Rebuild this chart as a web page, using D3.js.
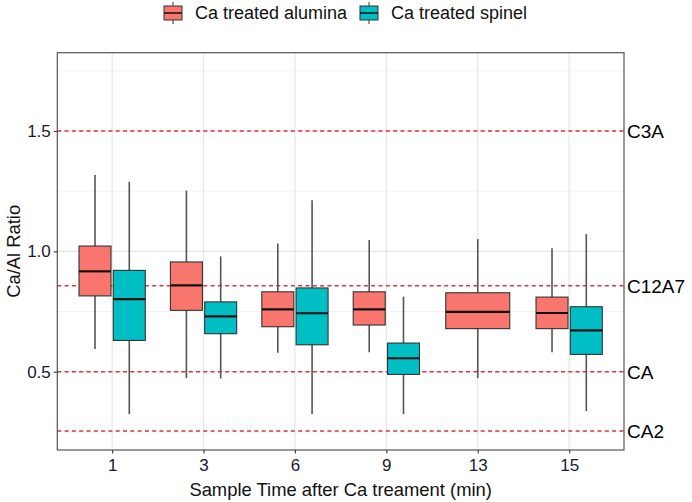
<!DOCTYPE html>
<html>
<head>
<meta charset="utf-8">
<title>Ca/Al Ratio boxplot</title>
<script src="https://d3js.org/d3.v7.min.js"></script>
<style>
  body { margin: 0; padding: 0; background: #fff; }
  svg { display: block; font-family: "Liberation Sans", Arial, sans-serif; }
</style>
</head>
<body>
<svg width="692" height="502"></svg>
<script>
// sample times (x categories)
var times = ["1", "3", "6", "9", "13", "15"];

// Ca treated alumina: box stats per time
var aluminaLow = [0.594, 0.474, 0.579, 0.581, 0.474, 0.581];
var aluminaQ1  = [0.815, 0.755, 0.687, 0.694, 0.679, 0.679];
var aluminaMed = [0.917, 0.859, 0.759, 0.759, 0.749, 0.744];
var aluminaQ3  = [1.022, 0.956, 0.832, 0.832, 0.828, 0.810];
var aluminaHigh= [1.317, 1.252, 1.033, 1.047, 1.051, 1.013];

// Ca treated spinel (no sample at 13 min)
var spinelLow = [0.324, 0.472, 0.324, 0.324, null, 0.337];
var spinelQ1  = [0.630, 0.658, 0.612, 0.489, null, 0.572];
var spinelMed = [0.802, 0.730, 0.743, 0.556, null, 0.672];
var spinelQ3  = [0.921, 0.790, 0.848, 0.619, null, 0.770];
var spinelHigh= [1.289, 0.979, 1.212, 0.812, null, 1.072];

// reference phases
var phaseNames = ["C3A", "C12A7", "CA", "CA2"];
var phaseValues = [1.5, 0.857, 0.5, 0.254];

var yTicks = [0.5, 1.0, 1.5];
var yMinor = [0.25, 0.75, 1.25, 1.75];

var seriesNames = ["Ca treated alumina", "Ca treated spinel"];
var seriesColors = ["#F8766D", "#00BFC4"];

var svg = d3.select("svg");
var pLeft = 57.3, pRight = 624, pTop = 52.7, pBottom = 450;

var x = d3.scalePoint().domain(times).range([pLeft, pRight]).padding(0.6);
var step = x.step();
var y = d3.scaleLinear().domain([0.175, 1.825]).range([pBottom, pTop]);

// panel background + grid
svg.append("rect").attr("x", pLeft).attr("y", pTop)
  .attr("width", pRight - pLeft).attr("height", pBottom - pTop).attr("fill", "#fff");

svg.append("g").selectAll("line").data(yMinor).enter().append("line")
  .attr("x1", pLeft).attr("x2", pRight)
  .attr("y1", function(d) { return y(d); }).attr("y2", function(d) { return y(d); })
  .attr("stroke", "#f3f3f3").attr("stroke-width", 1);
svg.append("g").selectAll("line").data(yTicks).enter().append("line")
  .attr("x1", pLeft).attr("x2", pRight)
  .attr("y1", function(d) { return y(d); }).attr("y2", function(d) { return y(d); })
  .attr("stroke", "#e6e6e6").attr("stroke-width", 1.2);
svg.append("g").selectAll("line").data(times).enter().append("line")
  .attr("y1", pTop).attr("y2", pBottom)
  .attr("x1", function(d) { return x(d); }).attr("x2", function(d) { return x(d); })
  .attr("stroke", "#e6e6e6").attr("stroke-width", 1.2);

// phase reference lines
svg.append("g").selectAll("line").data(phaseValues).enter().append("line")
  .attr("x1", pLeft).attr("x2", pRight)
  .attr("y1", function(d) { return y(d); }).attr("y2", function(d) { return y(d); })
  .attr("stroke", "#d9363e").attr("stroke-width", 1.4)
  .attr("stroke-dasharray", "4,3.3");

svg.append("g").selectAll("text").data(phaseNames).enter().append("text")
  .attr("x", pRight + 3)
  .attr("y", function(d, i) { return y(phaseValues[i]); })
  .attr("dy", "0.36em")
  .attr("font-size", 19).attr("fill", "#000")
  .text(function(d) { return d; });

// boxes
function buildBoxes(low, q1, med, q3, high, si) {
  var out = [];
  times.forEach(function(t, i) {
    if (med[i] == null) return;
    var alone = (si === 0 ? spinelMed[i] == null : aluminaMed[i] == null);
    var cx = alone ? x(t) : x(t) + (si === 0 ? -0.1875 : 0.1875) * step;
    var w = alone ? 0.7 * step : 0.35 * step;
    out.push({ cx: cx, w: w, low: low[i], q1: q1[i], med: med[i], q3: q3[i], high: high[i], color: seriesColors[si] });
  });
  return out;
}
var boxes = buildBoxes(aluminaLow, aluminaQ1, aluminaMed, aluminaQ3, aluminaHigh, 0)
  .concat(buildBoxes(spinelLow, spinelQ1, spinelMed, spinelQ3, spinelHigh, 1));

var g = svg.append("g").selectAll("g").data(boxes).enter().append("g");
g.append("line")
  .attr("x1", function(d) { return d.cx; }).attr("x2", function(d) { return d.cx; })
  .attr("y1", function(d) { return y(d.high); }).attr("y2", function(d) { return y(d.low); })
  .attr("stroke", "#555").attr("stroke-width", 1.6);
g.append("rect")
  .attr("x", function(d) { return d.cx - d.w / 2; })
  .attr("width", function(d) { return d.w; })
  .attr("y", function(d) { return y(d.q3); })
  .attr("height", function(d) { return y(d.q1) - y(d.q3); })
  .attr("fill", function(d) { return d.color; })
  .attr("stroke", "#333").attr("stroke-width", 1.1);
g.append("line")
  .attr("x1", function(d) { return d.cx - d.w / 2; }).attr("x2", function(d) { return d.cx + d.w / 2; })
  .attr("y1", function(d) { return y(d.med); }).attr("y2", function(d) { return y(d.med); })
  .attr("stroke", "#111").attr("stroke-width", 2.2);

// panel border
svg.append("rect").attr("x", pLeft).attr("y", pTop)
  .attr("width", pRight - pLeft).attr("height", pBottom - pTop)
  .attr("fill", "none").attr("stroke", "#555").attr("stroke-width", 1.2);

// axes
var xAxis = svg.append("g").attr("transform", "translate(0," + pBottom + ")")
  .call(d3.axisBottom(x).tickSize(3.5).tickPadding(5));
var yAxis = svg.append("g").attr("transform", "translate(" + pLeft + ",0)")
  .call(d3.axisLeft(y).tickValues(yTicks).tickFormat(d3.format(".1f")).tickSize(3.5).tickPadding(3));
[xAxis, yAxis].forEach(function(a) {
  a.select(".domain").remove();
  a.selectAll(".tick line").attr("stroke", "#444").attr("stroke-width", 1.2);
  a.selectAll(".tick text").attr("fill", "#1a1a2e").attr("font-size", 17)
    .attr("font-family", "Liberation Sans, Arial, sans-serif");
});

// axis titles
svg.append("text").attr("x", (pLeft + pRight) / 2).attr("y", 496)
  .attr("text-anchor", "middle").attr("font-size", 18.4).attr("fill", "#111")
  .text("Sample Time after Ca treament (min)");
svg.append("text")
  .attr("transform", "translate(20," + ((pTop + pBottom) / 2) + ") rotate(-90)")
  .attr("text-anchor", "middle").attr("font-size", 18.4).attr("fill", "#111")
  .text("Ca/Al Ratio");

// legend
var legend = svg.append("g");
var legendX = [163, 359];
seriesNames.forEach(function(name, i) {
  var lg = legend.append("g").attr("transform", "translate(" + legendX[i] + ",0)");
  lg.append("line").attr("x1", 10).attr("x2", 10).attr("y1", 2).attr("y2", 24)
    .attr("stroke", "#555").attr("stroke-width", 1.2);
  lg.append("rect").attr("x", 1).attr("y", 6).attr("width", 18).attr("height", 14)
    .attr("fill", seriesColors[i]).attr("stroke", "#333").attr("stroke-width", 1);
  lg.append("line").attr("x1", 1).attr("x2", 19).attr("y1", 13).attr("y2", 13)
    .attr("stroke", "#111").attr("stroke-width", 1.5);
  lg.append("text").attr("x", 32).attr("y", 13).attr("dy", "0.36em")
    .attr("font-size", 18).attr("fill", "#111").text(name);
});
</script>
</body>
</html>
